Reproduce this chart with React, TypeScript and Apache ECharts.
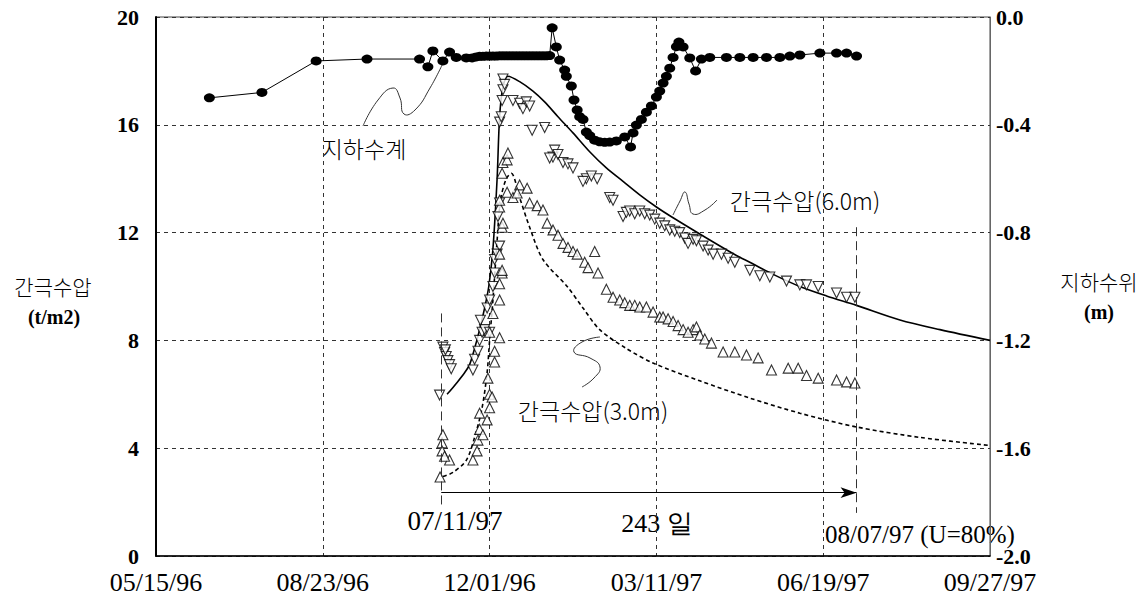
import React, { useEffect, useRef } from "react";
import * as echarts from "echarts";

// x values are days counted from 05/15/96
const xTickLabels = ["05/15/96", "08/23/96", "12/01/96", "03/11/97", "06/19/97", "09/27/97"];

// groundwater level (m), right axis
const groundwater: [number, number][] = [
  [32, -0.3], [63.5, -0.28], [96, -0.163], [126.5, -0.156], [158, -0.156], [163, -0.185], [166, -0.126],
  [172, -0.163], [176, -0.13], [180, -0.15], [186, -0.152], [189.5, -0.152], [192, -0.148], [194, -0.146],
  [196, -0.146], [198, -0.145], [200, -0.145], [202, -0.145], [204, -0.145], [206, -0.144], [208, -0.144],
  [210, -0.144], [212, -0.144], [214, -0.144], [216, -0.144], [218, -0.144], [220, -0.144], [222, -0.144],
  [224, -0.144], [226, -0.144], [228, -0.144], [230, -0.144], [232, -0.144], [234, -0.144], [236, -0.143],
  [237.5, -0.04], [240, -0.111], [242, -0.16], [245, -0.197], [246, -0.22], [249, -0.256], [250.6, -0.308],
  [252.5, -0.345], [254, -0.37], [256, -0.38], [258, -0.427], [260, -0.44], [263, -0.457], [266, -0.463],
  [269, -0.465], [272, -0.464], [276, -0.46], [281, -0.445], [284.5, -0.482], [286, -0.43], [288, -0.401],
  [291, -0.38], [294, -0.353], [297, -0.33], [300, -0.297], [302, -0.275], [304, -0.245], [306, -0.22],
  [308, -0.19], [310, -0.15], [312, -0.11], [313.5, -0.093], [316, -0.111], [320, -0.152], [323.5, -0.2],
  [327, -0.156], [332, -0.15], [342, -0.15], [350, -0.15], [358, -0.15], [366, -0.15], [374, -0.15],
  [380, -0.145], [386, -0.141], [398, -0.134], [408, -0.134], [414, -0.134], [420, -0.145],
];

// measured pore pressure at 6.0 m (t/m2)
const measured6m: [number, number][] = [
  [170, 5.97], [172, 7.75], [173, 7.55], [174, 7.4], [175, 7.25], [176, 7.1], [177, 6.95], [173.5, 7.65],
  [190, 6.9], [191, 7.3], [193, 7.6], [194, 8.0], [195.5, 8.3], [197, 8.4], [200, 8.3], [194.5, 8.75],
  [198.5, 9.2], [200, 9.5], [202, 10.0], [203, 10.5], [203, 11.0], [204.5, 11.2], [206, 11.5],
  [205, 12.6], [206, 13.1], [206, 16.1], [207, 16.3], [208, 17.3], [208, 17.7], [209, 17.5], [207.5, 16.9],
  [214, 16.9], [218, 16.8], [220, 16.6], [222, 16.85], [224, 16.7], [225.5, 15.8], [233, 15.9], [238, 14.8],
  [239, 15.06], [236, 14.77], [241, 14.9], [244, 14.6], [247, 14.55], [250, 14.4], [258, 14.0],
  [264.5, 14.0], [256, 13.9], [261, 14.1], [272, 13.3], [274, 13.2], [280, 12.6], [282, 12.75],
  [284, 12.8], [287, 12.7], [290, 12.8], [293, 12.7], [296, 12.65], [299, 12.5], [302, 12.35],
  [305, 12.25], [308, 12.1], [311, 12.05], [314, 12.0], [317, 11.8], [319, 11.6], [322, 11.75],
  [324, 11.7], [328, 11.5], [331, 11.35], [334, 11.2], [339, 11.2], [343, 11.05], [347, 10.9],
  [356, 10.6], [362, 10.4], [368, 10.35], [378, 10.2], [386, 10.06], [390, 10.06], [397, 10.0],
  [408, 9.76], [414, 9.6], [419, 9.6],
];

// measured pore pressure at 3.0 m (t/m2)
const measured3m: [number, number][] = [
  [170.3, 2.93], [171.5, 4.2], [172, 4.5], [171.5, 3.9], [176, 3.56], [173, 3.7],
  [190, 3.56], [192.5, 3.9], [193, 4.3], [194, 4.7], [194, 5.3], [198.5, 5.05], [200, 5.5], [200, 6.0],
  [201.5, 5.9], [203, 7.2], [203, 7.6], [200, 8.3], [206, 8.1], [206, 9.5], [206, 10.1], [207.5, 10.5],
  [207.5, 10.6], [206, 11.2], [207.5, 12.2], [208, 12.35], [206, 12.95], [206, 13.2], [207.5, 14.2],
  [208, 14.6], [210.5, 14.7], [211, 14.95], [196, 4.5], [199, 6.6], [202, 9.0],
  [210.5, 13.5], [214, 13.3], [218, 13.77], [216.5, 13.47], [222.5, 13.65], [224, 13.1], [228.5, 13.0],
  [232, 12.84], [234.5, 12.35], [238, 12.1], [241, 11.9], [244, 11.6], [247, 11.45], [250, 11.3],
  [252.5, 11.2], [263, 11.3], [257, 10.9], [259, 10.7], [265, 10.5], [270, 9.9], [274, 9.6], [278, 9.5],
  [281, 9.4], [284, 9.3], [287, 9.3], [290, 9.24], [294, 9.24], [298, 9.05], [302, 8.87], [304, 8.87],
  [307, 8.8], [310, 8.7], [313, 8.55], [316, 8.4], [322, 8.4], [319, 8.3], [324, 8.5], [326, 8.2],
  [329, 8.05], [333, 7.9], [340, 7.57], [347, 7.57], [354, 7.46], [361, 7.35], [369, 6.9], [379, 6.97],
  [385, 6.97], [390, 6.7], [397, 6.6], [408, 6.53], [414, 6.46], [419, 6.42],
];

// theoretical curve, 6.0 m (solid)
const theory6m: [number, number][] = [
  [174.5, 6.0], [176, 6.1], [180, 6.4], [185, 6.8], [188, 7.1], [191, 7.7], [194, 8.4], [197, 9.2],
  [199.5, 10.0], [202, 11.4], [204.5, 14.0], [206, 16.3], [208, 17.4], [211, 17.8], [218, 17.6],
  [226, 17.25], [233, 16.85], [241, 16.3], [250, 15.7], [260, 15.0], [270, 14.4], [280, 13.9],
  [290, 13.4], [300, 12.95], [310, 12.55], [330, 11.8], [348, 11.15], [356, 10.9], [370, 10.45],
  [386, 10.0], [402, 9.65], [420, 9.3], [446, 8.76], [470, 8.4], [500, 8.0],
];

// theoretical curve, 3.0 m (dashed)
const theory3m: [number, number][] = [
  [172, 2.95], [178, 3.1], [186, 3.55], [191, 4.4], [195.5, 5.5], [198.5, 6.8], [200, 8.0], [202, 9.5],
  [204.5, 11.7], [206.5, 13.2], [210, 14.0], [213, 14.2], [218, 13.3], [224, 12.2], [232, 11.0],
  [246.5, 10.0], [256, 9.2], [266, 8.4], [282, 7.7], [298, 7.16], [326, 6.5], [356, 5.86],
  [386, 5.3], [419, 4.8], [458, 4.4], [500, 4.1],
];

// annotation anchors (day, t/m2)
const startDay = 171;
const endDay = 420;
const arrowLevel = 2.35;

const SERIF = '"Liberation Serif", "Times New Roman", serif';
const KR = '"Noto Sans CJK KR", sans-serif';

export default function App() {
  const ref = useRef<HTMLDivElement>(null);
  useEffect(() => {
    document.body.style.margin = "0";
    const chart = echarts.init(ref.current!, null, { renderer: "svg" });
    const markerTri = {
      color: "#fff",
      borderColor: "#000",
      borderWidth: 1.1,
    };
    const txt = (x: number, y: number, text: string, font: string) => ({
      type: "text",
      x,
      y,
      style: { text, font, fill: "#000", align: "center", verticalAlign: "middle" },
    });
    const option: any = {
      animation: false,
      backgroundColor: "#fff",
      grid: {
        left: 156,
        right: 156,
        top: 17,
        bottom: 42,
        show: true,
        borderColor: "#444",
        borderWidth: 1,
        containLabel: false,
      },
      xAxis: {
        type: "value",
        min: 0,
        max: 500,
        interval: 100,
        axisLine: { show: true, lineStyle: { color: "#000", width: 1.5 } },
        axisTick: { show: false },
        axisLabel: {
          margin: 13,
          color: "#000",
          fontFamily: SERIF,
          fontSize: 26,
          formatter: (v: number) => xTickLabels[Math.round(v / 100)] ?? "",
        },
        splitLine: { show: true, lineStyle: { color: "#333", type: [4, 4], width: 1 } },
      },
      yAxis: [
        {
          type: "value",
          min: 0,
          max: 20,
          interval: 4,
          axisLine: { show: true, lineStyle: { color: "#000", width: 2 } },
          axisTick: { show: false },
          axisLabel: {
            margin: 17,
            color: "#000",
            fontFamily: SERIF,
            fontWeight: "bold",
            fontSize: 22,
          },
          splitLine: { show: true, lineStyle: { color: "#333", type: [4, 4], width: 1 } },
        },
        {
          type: "value",
          min: -2,
          max: 0,
          interval: 0.4,
          position: "right",
          axisLine: { show: true, lineStyle: { color: "#666", width: 1 } },
          axisTick: { show: false },
          axisLabel: {
            margin: 6,
            color: "#000",
            fontFamily: SERIF,
            fontWeight: "bold",
            fontSize: 22,
            formatter: (v: number) => (Math.abs(v) < 1e-9 ? "0.0" : v.toFixed(1)),
          },
          splitLine: { show: false },
        },
      ],
      series: [
        {
          name: "간극수압(6.0m) 이론",
          type: "line",
          data: theory6m,
          smooth: 0.3,
          showSymbol: false,
          lineStyle: { color: "#000", width: 1.6 },
          z: 3,
        },
        {
          name: "간극수압(3.0m) 이론",
          type: "line",
          data: theory3m,
          smooth: 0.3,
          showSymbol: false,
          lineStyle: { color: "#000", width: 1.6, type: [4, 3] },
          z: 3,
          markLine: {
            silent: true,
            symbol: "none",
            label: { show: false },
            lineStyle: { color: "#333", width: 1, type: [9, 5] },
            data: [
              [{ coord: [startDay, 9.0] }, { coord: [startDay, 1.9] }],
              [{ coord: [endDay, 12.2] }, { coord: [endDay, 1.6] }],
            ],
          },
        },
        {
          name: "arrow",
          type: "line",
          data: [],
          markLine: {
            silent: true,
            symbol: ["none", "arrow"],
            symbolSize: [8, 16],
            label: { show: false },
            lineStyle: { color: "#000", width: 1.2, type: "solid" },
            data: [[{ coord: [startDay, arrowLevel] }, { coord: [endDay, arrowLevel] }]],
          },
        },
        {
          name: "간극수압(6.0m)",
          type: "scatter",
          data: measured6m,
          symbol: "triangle",
          symbolRotate: 180,
          symbolSize: 10,
          itemStyle: markerTri,
          z: 4,
        },
        {
          name: "간극수압(3.0m)",
          type: "scatter",
          data: measured3m,
          symbol: "triangle",
          symbolSize: 10,
          itemStyle: markerTri,
          z: 4,
        },
        {
          name: "지하수계",
          type: "line",
          yAxisIndex: 1,
          data: groundwater,
          symbol: "circle",
          symbolSize: [11, 9],
          showSymbol: true,
          itemStyle: { color: "#000" },
          lineStyle: { color: "#000", width: 1 },
          z: 5,
        },
      ],
      graphic: [
        txt(53, 286, "간극수압", `300 21px ${KR}`),
        txt(54, 317, "(t/m2)", `bold 20px ${SERIF}`),
        txt(1099, 281, "지하수위", `300 21px ${KR}`),
        txt(1099, 312, "(m)", `bold 20px ${SERIF}`),
        txt(364, 148, "지하수계", `300 23px ${KR}`),
        txt(805, 200, "간극수압(6.0m)", `300 23px ${KR}`),
        txt(593, 410, "간극수압(3.0m)", `300 23px ${KR}`),
        txt(455, 521, "07/11/97", `27px ${SERIF}`),
        txt(657, 523, "243 일", `26px ${SERIF}`),
        txt(920, 534, "08/07/97 (U=80%)", `25px ${SERIF}`),
        {
          type: "polyline",
          shape: {
            points: [[363, 126], [378, 100], [393, 88], [400, 98], [404, 114], [415, 110], [430, 88], [443, 63]],
            smooth: 0.5,
          },
          style: { stroke: "#333", lineWidth: 1, fill: null },
        },
        {
          type: "polyline",
          shape: {
            points: [[673, 215], [680, 201], [685, 192], [689, 204], [693, 214], [705, 210], [717, 200]],
            smooth: 0.5,
          },
          style: { stroke: "#333", lineWidth: 1, fill: null },
        },
        {
          type: "polyline",
          shape: {
            points: [[582, 387], [594, 378], [600, 367], [590, 358], [574, 352], [582, 342], [600, 337]],
            smooth: 0.5,
          },
          style: { stroke: "#333", lineWidth: 1, fill: null },
        },
      ],
    };
    chart.setOption(option);
    return () => chart.dispose();
  }, []);
  return <div ref={ref} style={{ width: 1146, height: 598 }} />;
}
